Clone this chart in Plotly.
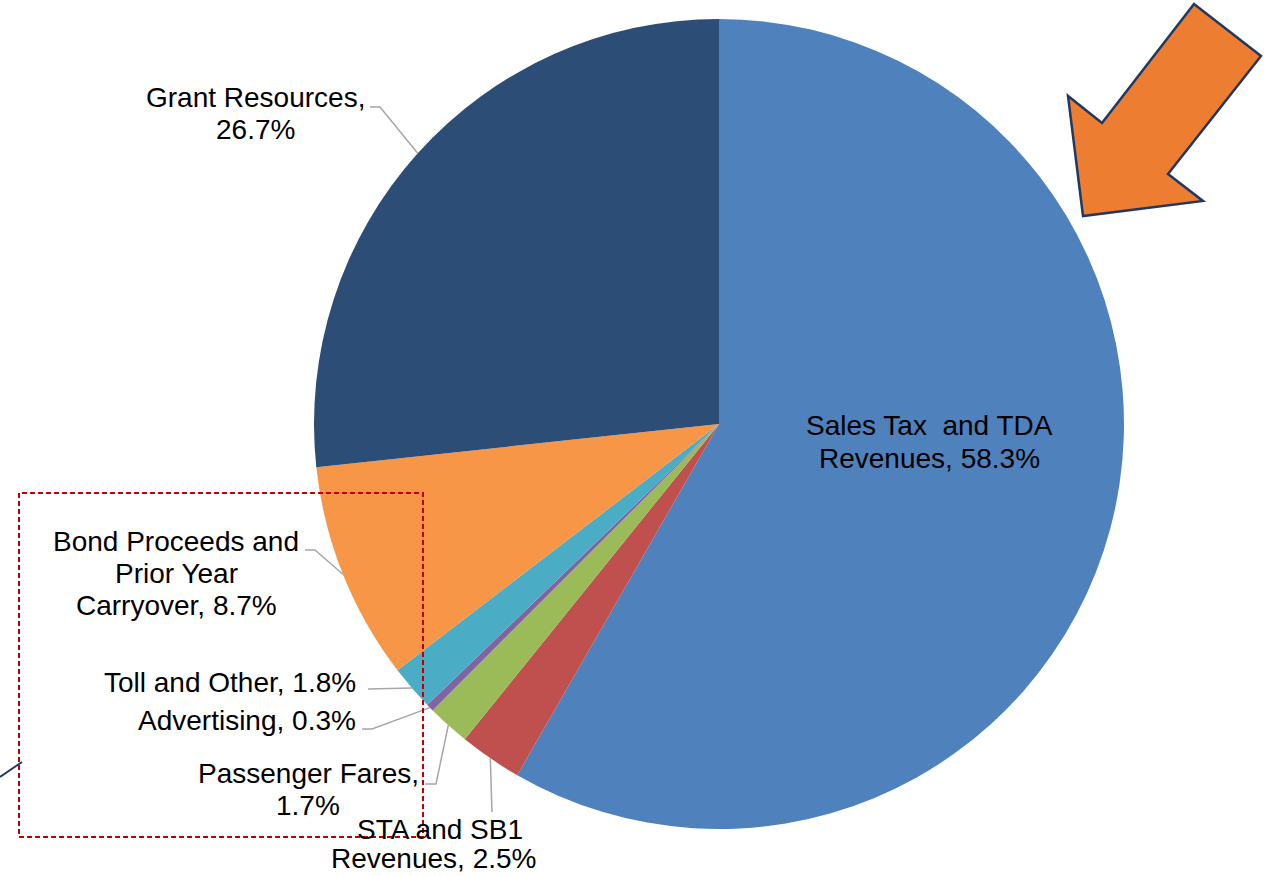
import math
import plotly.graph_objects as go

W, H = 1268, 876

# ---- data ----
categories = ["Sales Tax and TDA Revenues", "STA and SB1 Revenues", "Passenger Fares",
              "Advertising", "Toll and Other", "Bond Proceeds and Prior Year Carryover",
              "Grant Resources"]
values = [58.3, 2.5, 1.7, 0.3, 1.8, 8.7, 26.7]
colors = ["#4F81BD", "#C0504D", "#9BBB59", "#8064A2", "#4BACC6", "#F79646", "#2C4D75"]
label_lines = [
    ["Sales Tax\u00a0 and TDA", "Revenues, 58.3%"],
    ["STA and SB1", "Revenues, 2.5%"],
    ["Passenger Fares,", "1.7%"],
    ["Advertising, 0.3%"],
    ["Toll and Other, 1.8%"],
    ["Bond Proceeds and", "Prior Year", "Carryover, 8.7%"],
    ["Grant Resources,", "26.7%"],
]

# ---- layout geometry (pixels) ----
CX, CY, R = 719, 424, 405


def px(x, y):
    return x / W, 1 - y / H


fig = go.Figure(go.Pie(
    labels=categories, values=values, sort=False, direction="clockwise", rotation=0,
    marker=dict(colors=colors, line=dict(width=0)),
    textinfo="none", hoverinfo="label+percent", showlegend=False,
    domain=dict(x=[(CX - R) / W, (CX + R) / W], y=[1 - (CY + R) / H, 1 - (CY - R) / H]),
))

# label placements: x per line, y per line, xanchor
label_pos = [
    ((929, 929), (426, 458), "center"),
    ((440, 433), (829, 858), "center"),
    ((308, 308), (773, 805), "center"),
    ((357,), (720,), "right"),
    ((357,), (682,), "right"),
    ((176, 176, 176), (541, 573, 605), "center"),
    ((255, 255), (97, 129), "center"),
]
# leader line elbows (label side); None for inside label
leaders = [
    None,
    [(492, 812)],
    [(425, 784), (436, 784)],
    [(362, 729), (372, 729)],
    [(368, 689)],
    [(305, 550), (315, 550)],
    [(370, 107), (380, 107)],
]

total = sum(values)
cum = 0.0
shapes = []
annotations = []
font = dict(family="Liberation Sans, Arial, sans-serif", size=28, color="#000000")
for i, v in enumerate(values):
    mid = (cum + v / 2) / total
    cum += v
    ang = math.radians(90 - 360 * mid)
    ex, ey = CX + R * math.cos(ang), CY - R * math.sin(ang)
    xs, ys, anc = label_pos[i]
    for k, line in enumerate(label_lines[i]):
        ax, ay = px(xs[k], ys[k])
        annotations.append(dict(x=ax, y=ay, xref="paper", yref="paper", text=line,
                                showarrow=False, xanchor=anc, yanchor="middle",
                                font=font, borderpad=0))
    if leaders[i]:
        pts = leaders[i] + [(ex, ey)]
        path = "M " + " L ".join(f"{px(a, b)[0]},{px(a, b)[1]}" for a, b in pts)
        shapes.append(dict(type="path", xref="paper", yref="paper", path=path,
                           line=dict(color="#A6A6A6", width=1.5)))

# dashed red rectangle
x0, y0 = px(19, 493)
x1, y1 = px(423, 837)
shapes.append(dict(type="rect", xref="paper", yref="paper", x0=x0, y0=y1, x1=x1, y1=y0,
                   line=dict(color="#C00000", width=2, dash="5px,3px")))

# dark line at left
a0 = px(0, 777)
a1 = px(22, 762)
shapes.append(dict(type="line", xref="paper", yref="paper", x0=a0[0], y0=a0[1],
                   x1=a1[0], y1=a1[1], line=dict(color="#1F3864", width=2)))

# orange arrow
arrow = [(1083, 216), (1068, 96), (1102, 123), (1194, 4), (1261, 56), (1168, 174), (1203, 201)]
path = "M " + " L ".join(f"{px(a, b)[0]},{px(a, b)[1]}" for a, b in arrow) + " Z"
shapes.append(dict(type="path", xref="paper", yref="paper", path=path,
                   fillcolor="#ED7D31", line=dict(color="#1F3864", width=2.5)))

fig.update_layout(width=W, height=H, margin=dict(l=0, r=0, t=0, b=0),
                  paper_bgcolor="white", plot_bgcolor="white",
                  shapes=shapes, annotations=annotations)

fig.write_html("out.html", config={"displayModeBar": False})
